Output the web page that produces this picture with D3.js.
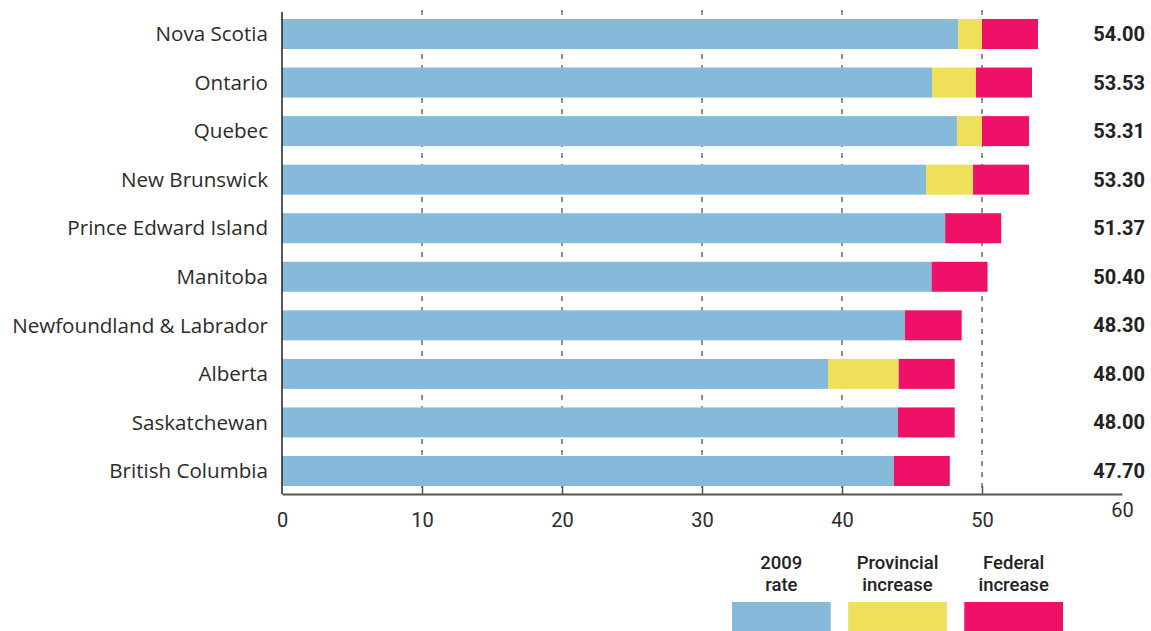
<!DOCTYPE html>
<html>
<head>
<meta charset="utf-8">
<script src="https://cdn.jsdelivr.net/npm/d3@7"></script>
<style>
  body { margin: 0; background: #fff; }
  svg { display: block; }
  text { font-family: "Open Sans", "Noto Sans", sans-serif; }
</style>
</head>
<body>
<svg id="chart" width="1151" height="631"></svg>
<script>
const provinces = ["Nova Scotia", "Ontario", "Quebec", "New Brunswick", "Prince Edward Island",
  "Manitoba", "Newfoundland & Labrador", "Alberta", "Saskatchewan", "British Columbia"];
const rate2009 = [48.29, 46.43, 48.22, 46.0, 47.37, 46.4, 44.5, 39.0, 44.0, 43.7];
const provincialIncrease = [1.71, 3.14, 1.78, 3.36, 0, 0, 0, 5.05, 0, 0];
const federalIncrease = [4.0, 4.0, 3.36, 4.0, 4.0, 4.0, 4.05, 4.0, 4.05, 4.0];
const totalLabels = ["54.00", "53.53", "53.31", "53.30", "51.37", "50.40", "48.30", "48.00", "48.00", "47.70"];
const xTicks = [0, 10, 20, 30, 40, 50, 60];
const gridTicks = [10, 20, 30, 40, 50];
const seriesNames = ["2009 rate", "Provincial increase", "Federal increase"];
const legendLines = [["2009", "rate"], ["Provincial", "increase"], ["Federal", "increase"]];
const colors = ["#85BADB", "#EEE05B", "#EE1167"];

const svg = d3.select("#chart");
const x = d3.scaleLinear().domain([0, 60]).range([282, 1122]);
const y = d3.scaleBand().domain(provinces).range([19, 486]).paddingInner(0.382).paddingOuter(0);

const rows = provinces.map((p, i) => ({
  province: p,
  "2009 rate": rate2009[i],
  "Provincial increase": provincialIncrease[i],
  "Federal increase": federalIncrease[i],
  label: totalLabels[i]
}));
const stacked = d3.stack().keys(seriesNames)(rows);

// gridlines
svg.append("g").selectAll("line").data(gridTicks).join("line")
  .attr("x1", d => x(d)).attr("x2", d => x(d))
  .attr("y1", 10).attr("y2", 494)
  .attr("stroke", "#6b6b6b").attr("stroke-width", 1.5)
  .attr("stroke-dasharray", "5,6");

// bars
svg.append("g").selectAll("g").data(stacked).join("g")
  .attr("fill", (d, i) => colors[i])
  .selectAll("rect").data(d => d.filter(s => s[1] - s[0] > 0)).join("rect")
  .attr("x", d => x(d[0]))
  .attr("width", d => x(d[1]) - x(d[0]))
  .attr("y", d => y(d.data.province))
  .attr("height", y.bandwidth());

// y axis line
svg.append("line").attr("x1", 282).attr("x2", 282).attr("y1", 12).attr("y2", 494)
  .attr("stroke", "#222").attr("stroke-width", 1.5);

// x axis
const xAxis = svg.append("g").attr("transform", "translate(0,494)")
  .call(d3.axisBottom(x).tickValues(xTicks).tickSize(0).tickPadding(0).tickFormat(d3.format("d")));
xAxis.select(".domain").attr("stroke", "#555").attr("stroke-width", 2);
xAxis.selectAll(".tick text")
  .attr("fill", "#2b2b2b").attr("font-size", 20)
  .attr("y", d => d === 60 ? 16 : 25.5)
  .attr("dy", "0.35em")
  .style("font-family", "Roboto, sans-serif");
xAxis.selectAll(".tick").filter(d => d > 0 && d < 60).append("line")
  .attr("y1", 0).attr("y2", -8).attr("stroke", "#555").attr("stroke-width", 1.5);

// category labels
svg.append("g").selectAll("text").data(provinces).join("text")
  .attr("x", 268).attr("y", d => y(d) + y.bandwidth() / 2)
  .attr("dy", "0.35em").attr("text-anchor", "end")
  .attr("font-size", 20.6).attr("fill", "#2b2b2b")
  .text(d => d);

// value labels
svg.append("g").selectAll("text").data(rows).join("text")
  .attr("x", 1145).attr("y", d => y(d.province) + y.bandwidth() / 2)
  .attr("dy", "0.35em").attr("text-anchor", "end")
  .attr("font-size", 20).attr("font-weight", "bold").attr("fill", "#222")
  .style("font-family", "Roboto, sans-serif")
  .text(d => d.label);

// legend
const legendX = d3.scaleBand().domain(seriesNames).range([732, 1063]).paddingInner(0.15);
const lg = svg.append("g").selectAll("g").data(seriesNames).join("g");
lg.append("rect")
  .attr("x", d => legendX(d)).attr("y", 602)
  .attr("width", legendX.bandwidth()).attr("height", 29)
  .attr("fill", (d, i) => colors[i]);
lg.each(function(d, i) {
  const g = d3.select(this);
  legendLines[i].forEach((line, j) => {
    g.append("text")
      .attr("x", legendX(d) + legendX.bandwidth() / 2)
      .attr("y", 569 + j * 22)
      .attr("text-anchor", "middle")
      .attr("font-size", 18.5).attr("font-weight", 500).attr("fill", "#222")
      .style("font-family", "Roboto, sans-serif")
      .text(line);
  });
});
</script>
</body>
</html>
